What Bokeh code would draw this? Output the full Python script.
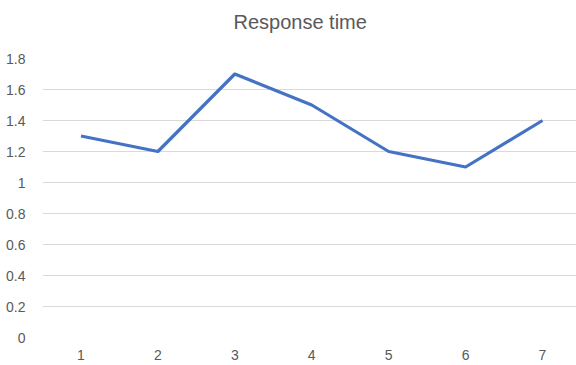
from bokeh.plotting import figure
from bokeh.models import Range1d, FixedTicker, LinearAxis
from bokeh.embed import file_html
from bokeh.resources import INLINE

categories = [1, 2, 3, 4, 5, 6, 7]
response_time = [1.3, 1.2, 1.7, 1.5, 1.2, 1.1, 1.4]
y_ticks = [0, 0.2, 0.4, 0.6, 0.8, 1.0, 1.2, 1.4, 1.6, 1.8]
y_labels = {0: "0", 0.2: "0.2", 0.4: "0.4", 0.6: "0.6", 0.8: "0.8", 1.0: "1",
            1.2: "1.2", 1.4: "1.4", 1.6: "1.6", 1.8: "1.8"}
chart_title = "Response time"

p = figure(width=576, height=365, output_backend="svg", toolbar_location=None,
           title=chart_title,
           x_range=Range1d(0.5, 7.442), y_range=Range1d(0, 1.8),
           min_border_left=42, min_border_right=0, min_border_top=58, min_border_bottom=28)
p.outline_line_color = None
p.background_fill_color = "white"
p.border_fill_color = "white"

p.line(categories, response_time, line_color="#4472C4", line_width=3.2, line_join="round")

font = "Liberation Sans"
for ax in (p.xaxis[0], p.yaxis[0]):
    ax.axis_line_color = None
    ax.major_tick_line_color = None
    ax.minor_tick_line_color = None
    ax.major_label_text_color = "#595959"
    ax.major_label_text_font = font
    ax.major_label_text_font_size = "14px"

p.xaxis.ticker = FixedTicker(ticks=categories)
p.xaxis.major_label_standoff = 6
p.yaxis.ticker = FixedTicker(ticks=y_ticks)
p.yaxis.major_label_overrides = y_labels
p.yaxis.major_label_standoff = 11

p.xgrid.grid_line_color = None
p.ygrid.grid_line_color = "#D9D9D9"
p.ygrid.grid_line_width = 1

# invisible spacer between the frame and the title (a tick-only axis drawing nothing)
spacer = LinearAxis(ticker=FixedTicker(ticks=[1]), axis_line_color=None,
                    major_tick_line_color=None, minor_tick_line_color=None,
                    major_tick_out=25, minor_tick_out=0, major_tick_in=0,
                    major_label_standoff=0, major_label_text_font_size="1px",
                    major_label_text_alpha=0)
p.add_layout(spacer, "above")

p.title.align = "left"
p.title.offset = 191
p.title.vertical_align = "bottom"
p.title.standoff = 2
p.title.text_font = font
p.title.text_font_size = "20px"
p.title.text_font_style = "normal"
p.title.text_color = "#595959"

open("out.html", "w").write(file_html(p, INLINE))
